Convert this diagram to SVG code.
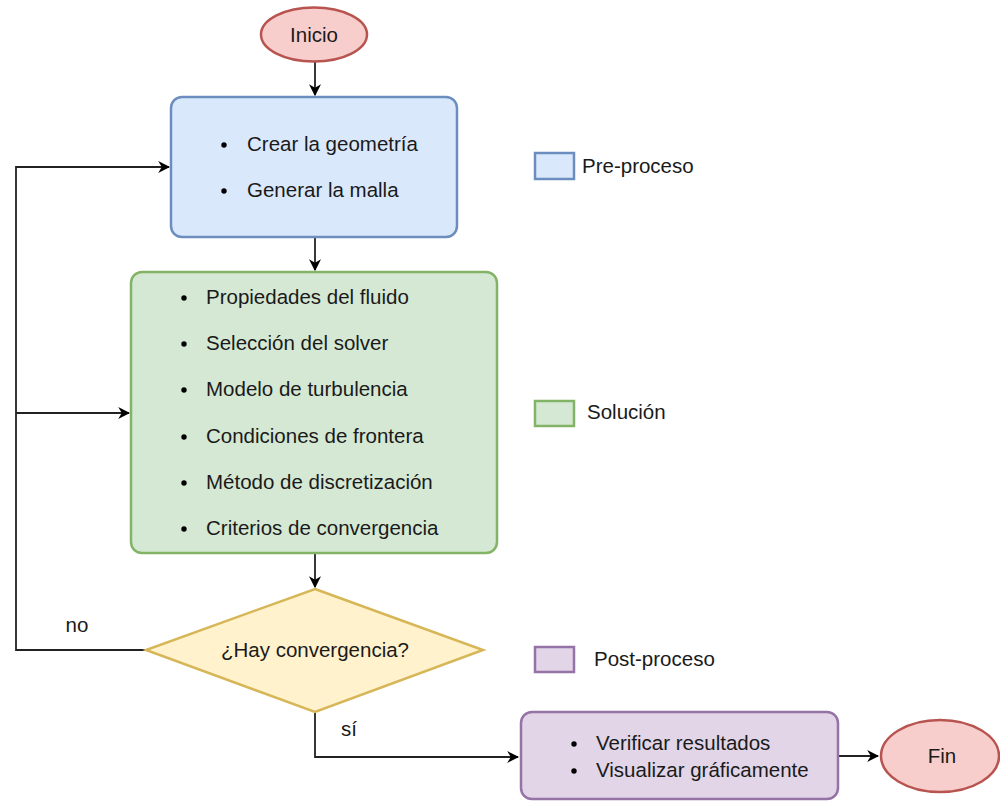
<svg xmlns="http://www.w3.org/2000/svg" width="1000" height="801" viewBox="0 0 1000 801">
<defs>
<marker id="arr" viewBox="0 0 10 10" refX="9" refY="5" markerWidth="12" markerHeight="12" markerUnits="userSpaceOnUse" orient="auto">
<path d="M0,0 L10,5 L0,10 L3,5 Z" fill="#000"/>
</marker>
<style>
text{font-family:"Liberation Sans",Arial,sans-serif;font-size:20.5px;fill:#1a1a1a}
.c{text-anchor:middle}
.conn{fill:none;stroke:#222;stroke-width:1.8}
.bl{fill:#dae8fc;stroke:#6c8ebf;stroke-width:2.5}
.gr{fill:#d5e8d4;stroke:#82b366;stroke-width:2.5}
.ye{fill:#fff2cc;stroke:#d6b656;stroke-width:2.5}
.pu{fill:#e1d5e7;stroke:#9673a6;stroke-width:2.5}
.re{fill:#f8cecc;stroke:#b85450;stroke-width:2.5}
</style>
</defs>
<rect width="1000" height="801" fill="#fff"/>
<g id="connectors">
<path class="conn" d="M315,62 V95" marker-end="url(#arr)"/>
<path class="conn" d="M315,238 V270" marker-end="url(#arr)"/>
<path class="conn" d="M315,554 V587" marker-end="url(#arr)"/>
<path class="conn" d="M145,650 H16 V167 H169" marker-end="url(#arr)"/>
<path class="conn" d="M16,413 H129" marker-end="url(#arr)"/>
<path class="conn" d="M315,713 V757 H518" marker-end="url(#arr)"/>
<path class="conn" d="M838,756 H878" marker-end="url(#arr)"/>
<text x="77" y="632" class="c">no</text>
<text x="349" y="736" class="c">sí</text>
</g>
<g id="inicio">
<ellipse class="re" cx="314" cy="34.5" rx="53" ry="27"/>
<text x="314" y="41.5" class="c">Inicio</text>
</g>
<g id="preproceso">
<rect class="bl" x="171" y="97" width="286" height="140" rx="11"/>
<circle cx="224" cy="145" r="2.7" fill="#000"/>
<text x="247" y="151">Crear la geometría</text>
<circle cx="224" cy="191" r="2.7" fill="#000"/>
<text x="247" y="197">Generar la malla</text>
</g>
<g id="solucion">
<rect class="gr" x="131" y="272" width="366" height="281" rx="11"/>
<circle cx="184" cy="298" r="2.7" fill="#000"/>
<text x="206" y="304">Propiedades del fluido</text>
<circle cx="184" cy="344" r="2.7" fill="#000"/>
<text x="206" y="350">Selección del solver</text>
<circle cx="184" cy="390" r="2.7" fill="#000"/>
<text x="206" y="396">Modelo de turbulencia</text>
<circle cx="184" cy="437" r="2.7" fill="#000"/>
<text x="206" y="443">Condiciones de frontera</text>
<circle cx="184" cy="483" r="2.7" fill="#000"/>
<text x="206" y="489">Método de discretización</text>
<circle cx="184" cy="529" r="2.7" fill="#000"/>
<text x="206" y="535">Criterios de convergencia</text>
</g>
<g id="decision">
<polygon class="ye" points="315,589 483,650 315,712 146,650"/>
<text x="315" y="657" class="c">¿Hay convergencia?</text>
</g>
<g id="postproceso">
<rect class="pu" x="521" y="712" width="317" height="87" rx="11"/>
<circle cx="574" cy="744" r="2.7" fill="#000"/>
<text x="596" y="750">Verificar resultados</text>
<circle cx="574" cy="771" r="2.7" fill="#000"/>
<text x="596" y="777">Visualizar gráficamente</text>
</g>
<g id="fin">
<ellipse class="re" cx="940" cy="756" rx="59" ry="36"/>
<text x="942" y="763" class="c">Fin</text>
</g>
<g id="legend-pre">
<rect class="bl" x="535" y="153" width="39" height="26" stroke-width="2"/>
<text x="582" y="173">Pre-proceso</text>
</g>
<g id="legend-sol">
<rect class="gr" x="535" y="401" width="39" height="25" stroke-width="2"/>
<text x="587" y="419">Solución</text>
</g>
<g id="legend-post">
<rect class="pu" x="535" y="647" width="39" height="25" stroke-width="2"/>
<text x="594" y="666">Post-proceso</text>
</g>
</svg>
